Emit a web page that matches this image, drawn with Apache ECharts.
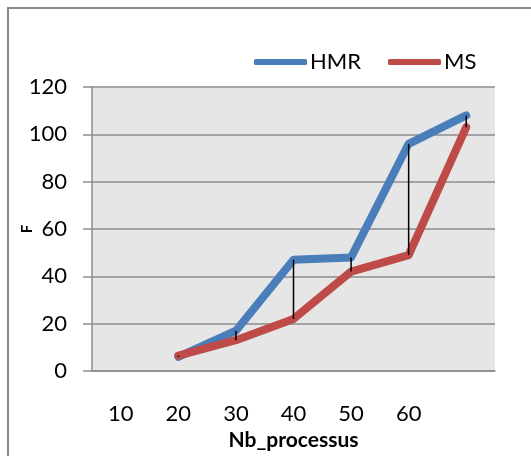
<!DOCTYPE html>
<html>
<head>
<meta charset="utf-8">
<script src="https://cdn.jsdelivr.net/npm/echarts@6/dist/echarts.min.js"></script>
<style>
  html, body { margin: 0; padding: 0; background: #ffffff; }
  #chart { width: 531px; height: 456px; }
</style>
</head>
<body>
<div id="chart"></div>
<script>
// Categories on the x axis (the last slot has no label)
const categories = ['10', '20', '30', '40', '50', '60', ''];
// F values per number of processes
const hmrValues = [null, 6, 17, 47, 48, 96, 108];
const msValues = [null, 6.5, 13, 22, 42, 49, 103];
const yTicks = { min: 0, max: 120, interval: 20 };

const FONT = 'Lato';
const GRID_COLOR = '#8c8c8c';

// Pairs used for the black high-low connectors between the two series
const spreadData = categories
  .map((c, i) => [i, hmrValues[i], msValues[i]])
  .filter(d => d[1] != null && d[2] != null);

const chart = echarts.init(document.getElementById('chart'), null, { renderer: 'canvas' });

chart.setOption({
  backgroundColor: '#ffffff',
  animation: false,
  textStyle: { fontFamily: FONT },
  graphic: [{
    type: 'rect',
    shape: { x: 8, y: 8, width: 560, height: 480 },
    style: { fill: 'none', stroke: '#8a8a8a', lineWidth: 2 },
    z: -10
  }],
  legend: {
    data: ['HMR', 'MS'],
    left: 249,
    top: 46,
    icon: 'roundRect',
    itemWidth: 53,
    itemHeight: 6,
    itemGap: 27,
    textStyle: { fontFamily: FONT, fontSize: 22, color: '#000000', padding: [0, 0, 0, -2] }
  },
  grid: {
    left: 92, right: 36, top: 87, bottom: 84,
    show: true, backgroundColor: '#e6e6e6', borderWidth: 0
  },
  xAxis: {
    type: 'category',
    data: categories,
    boundaryGap: true,
    name: 'Nb_processus',
    nameLocation: 'middle',
    nameGap: 59,
    nameMoveOverlap: false,
    nameTextStyle: { fontFamily: FONT, fontSize: 21, fontWeight: 'bold', color: '#000000' },
    axisLine: { show: true, lineStyle: { color: GRID_COLOR, width: 1.5 } },
    axisTick: { show: false },
    axisLabel: { margin: 32, fontFamily: FONT, fontSize: 22, color: '#000000', interval: 0 },
    splitLine: { show: false }
  },
  yAxis: {
    type: 'value',
    min: yTicks.min, max: yTicks.max, interval: yTicks.interval,
    name: 'F',
    nameLocation: 'middle',
    nameGap: 57,
    nameMoveOverlap: false,
    nameTextStyle: { fontFamily: FONT, fontSize: 15, fontWeight: 'bold', color: '#000000' },
    axisLine: { show: true, lineStyle: { color: GRID_COLOR, width: 1.5 } },
    axisTick: { show: true, length: 9, lineStyle: { color: GRID_COLOR, width: 1.5 } },
    axisLabel: { margin: 25, fontFamily: FONT, fontSize: 22, color: '#000000' },
    splitLine: { show: true, lineStyle: { color: GRID_COLOR, width: 1.5 } }
  },
  series: [
    {
      name: 'HMR',
      type: 'line',
      data: hmrValues,
      symbol: 'none',
      color: '#4a7ebb',
      lineStyle: { width: 8, color: '#4a7ebb', cap: 'round', join: 'round' },
      z: 2
    },
    {
      name: 'MS',
      type: 'line',
      data: msValues,
      symbol: 'none',
      color: '#be4b48',
      lineStyle: { width: 8, color: '#be4b48', cap: 'round', join: 'round' },
      z: 3
    },
    {
      name: 'spread',
      type: 'custom',
      data: spreadData,
      z: 5,
      silent: true,
      renderItem: function (params, api) {
        const idx = api.value(0);
        const top = api.coord([idx, api.value(1)]);
        const bottom = api.coord([idx, api.value(2)]);
        return {
          type: 'line',
          shape: { x1: top[0], y1: top[1], x2: bottom[0], y2: bottom[1] },
          style: { stroke: '#000000', lineWidth: 1.5, lineCap: 'butt' }
        };
      }
    }
  ]
});
</script>
</body>
</html>
